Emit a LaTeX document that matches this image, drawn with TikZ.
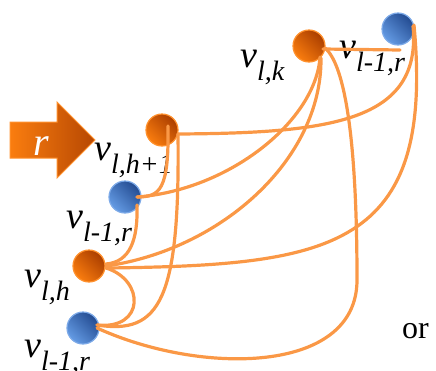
\documentclass[tikz,border=0pt]{standalone}
\usepackage{fontspec}
\setmainfont{Liberation Serif}
\usetikzlibrary{positioning}
\definecolor{ballorange}{RGB}{250,125,15}
\definecolor{darkorange}{RGB}{170,62,0}
\definecolor{rimorange}{RGB}{255,145,45}
\definecolor{ballblue}{RGB}{100,155,228}
\definecolor{darkblue}{RGB}{35,75,145}
\definecolor{rimblue}{RGB}{125,170,232}
\definecolor{edgeorange}{RGB}{250,152,70}
\newcommand{\vsub}[1]{\textit{v}\raisebox{-13pt}{\fontsize{28}{30}\selectfont\textit{#1}}}

\begin{document}
\begin{tikzpicture}[x=1pt, y=-1pt,
    onode/.style={circle, draw=rimorange, line width=1.2pt, minimum size=32pt, inner sep=0pt, top color=darkorange, bottom color=ballorange, shading angle=-45},
    bnode/.style={circle, draw=rimblue, line width=1.2pt, minimum size=32pt, inner sep=0pt, top color=darkblue, bottom color=ballblue, shading angle=-45},
    vlabel/.style={anchor=base west, inner sep=0pt, font=\fontsize{38}{40}\selectfont},
    link/.style={draw=edgeorange, line width=3.2pt, line cap=round}
]
\useasboundingbox (0,0) rectangle (436,370);

% input arrow
\draw[rimorange, line width=1pt, left color=ballorange, right color=darkorange!85!ballorange]
    (10,122) -- (57,122) -- (57,102) -- (95,140) -- (57,178) -- (57,158) -- (10,158) -- cycle;
\node[anchor=base, inner sep=0pt, text=white, font=\fontsize{40}{42}\selectfont\itshape] (rin) at (41,155) {r};

% nodes
\node[onode] (vlk) at (309,46) {};
\node[bnode] (btop) at (398,29) {};
\node[onode] (vlhp) at (162,130) {};
\node[bnode] (bmid) at (125,197) {};
\node[onode] (vlh) at (89,266) {};
\node[bnode] (bbot) at (83,328) {};

% labels
\node[vlabel] (lk) at (240,67) {\vsub{l,k}};
\node[vlabel] (ltop) at (339,58) {\vsub{l-1,r}};
\node[vlabel] (lhp) at (94,160) {\vsub{l,h+1}};
\node[vlabel] (lmid) at (66,228) {\vsub{l-1,r}};
\node[vlabel] (lh) at (24,287) {\vsub{l,h}};
\node[vlabel] (lbot) at (24,357) {\vsub{l-1,r}};
\node[anchor=base west, inner sep=0pt, font=\fontsize{32}{34}\selectfont] (or) at (402,338) {or};

% links
\draw[link] ([shift={(14,3)}]vlk.center) -- ([shift={(2,21)}]btop.center);
\draw[link] ([shift={(16,4)}]vlhp.center) .. controls (330,133) and (422,122) .. ([shift={(15,-3)}]btop.center);
\draw[link] ([shift={(6,-4)}]vlhp.center) .. controls (169,190) and (160,197) .. ([shift={(12,0)}]bmid.center);
\draw[link] ([shift={(16,4)}]vlhp.center) .. controls (180,300) and (160,335) .. ([shift={(14,-3)}]bbot.center);
\draw[link] ([shift={(12,0)}]bmid.center) .. controls (230,190) and (316,120) .. ([shift={(11,11)}]vlk.center);
\draw[link] ([shift={(12,8)}]bmid.center) .. controls (138,240) and (130,262) .. ([shift={(17,-2)}]vlh.center);
\draw[link] ([shift={(17,0)}]vlh.center) .. controls (220,250) and (322,160) .. ([shift={(12,12)}]vlk.center);
\draw[link] ([shift={(19,2)}]vlh.center) .. controls (330,265) and (435,250) .. ([shift={(16,-4)}]btop.center);
\draw[link] ([shift={(17,2)}]vlh.center) .. controls (145,280) and (145,330) .. ([shift={(14,-3)}]bbot.center);
\draw[link] ([shift={(14,0)}]bbot.center) .. controls (200,375) and (357,375) .. (357,280)
    .. controls (357,140) and (345,65) .. ([shift={(16,2)}]vlk.center);
\end{tikzpicture}
\end{document}
